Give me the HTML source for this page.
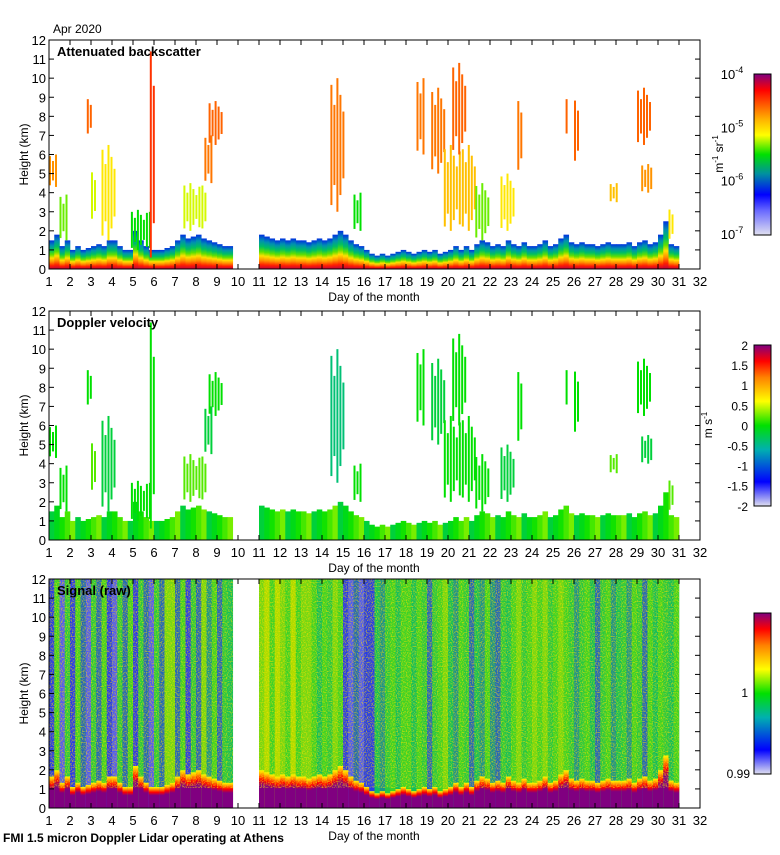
<!DOCTYPE html>
<html><head><meta charset="utf-8"><style>
body{margin:0;background:#fff;font-family:"Liberation Sans",sans-serif}
svg text{font-family:"Liberation Sans",sans-serif}
</style></head><body>
<svg id="s" width="780" height="850" xmlns="http://www.w3.org/2000/svg">
<defs>
<linearGradient id="cmapB" x1="0" y1="1" x2="0" y2="0">
<stop offset="0" stop-color="#e0e0f0"/><stop offset="0.15" stop-color="#6a6aff"/><stop offset="0.25" stop-color="#0000ff"/><stop offset="0.38" stop-color="#0090a0"/><stop offset="0.5" stop-color="#00e000"/><stop offset="0.62" stop-color="#ffff00"/><stop offset="0.72" stop-color="#ffb000"/><stop offset="0.82" stop-color="#ff5000"/><stop offset="0.9" stop-color="#ff0000"/><stop offset="1" stop-color="#800080"/></linearGradient>
<linearGradient id="cmapD" x1="0" y1="1" x2="0" y2="0">
<stop offset="0" stop-color="#e0e0f0"/><stop offset="0.15" stop-color="#0000ff"/><stop offset="0.35" stop-color="#00b0b0"/><stop offset="0.5" stop-color="#00e000"/><stop offset="0.65" stop-color="#ffff00"/><stop offset="0.8" stop-color="#ff8000"/><stop offset="0.9" stop-color="#ff0000"/><stop offset="1" stop-color="#800080"/></linearGradient>
<linearGradient id="blB" x1="0" y1="1" x2="0" y2="0">
<stop offset="0" stop-color="#c00040"/><stop offset="0.12" stop-color="#ff2000"/><stop offset="0.25" stop-color="#ff9000"/><stop offset="0.38" stop-color="#ffe000"/><stop offset="0.5" stop-color="#60e000"/><stop offset="0.65" stop-color="#00c060"/><stop offset="0.82" stop-color="#0090b0"/><stop offset="1" stop-color="#0030e0"/></linearGradient>
<linearGradient id="blS" x1="0" y1="1" x2="0" y2="0">
<stop offset="0" stop-color="#800080"/><stop offset="0.6" stop-color="#800080"/><stop offset="0.75" stop-color="#ff0000"/><stop offset="0.9" stop-color="#ffa000"/><stop offset="1" stop-color="#ffff00"/></linearGradient>
<filter id="noise" x="0" y="0" width="100%" height="100%"><feTurbulence type="fractalNoise" baseFrequency="0.8" numOctaves="1" seed="3"/><feColorMatrix values="0 0 0 0 1  0 0 0 0 0.75  0 0 0 0 0  0 0 0 4 -1.8"/></filter>
</defs>
<g id="plots"></g>
</svg>
<script>
const blHeight=[1.5,1.8,1.2,1.5, 1.0,1.2,1.0,1.1, 1.2,1.3,1.2,1.5, 1.5,1.2,1.0,1.0, 2.0,1.5,1.2,1.0, 1.0,1.0,1.1,1.2, 1.5,1.8,1.6,1.7, 1.8,1.6,1.5,1.4, 1.3,1.2,1.2,null,
null,null,null,null, 1.8,1.7,1.6,1.5, 1.6,1.5,1.6,1.5, 1.5,1.4,1.5,1.6, 1.5,1.6,1.8,2.0, 1.8,1.5,1.3,1.2, 1.0,0.8,0.7,0.8, 0.7,0.8,0.9,1.0, 0.9,0.8,0.9,1.0, 0.9,1.0,0.8,0.9, 1.0,1.2,1.0,1.2, 1.0,1.3,1.5,1.4, 1.2,1.3,1.2,1.5, 1.3,1.2,1.4,1.2, 1.2,1.3,1.5,1.2, 1.3,1.6,1.8,1.4, 1.3,1.4,1.3,1.3, 1.2,1.3,1.4,1.3, 1.3,1.3,1.4,1.2, 1.4,1.5,1.3,1.4, 1.8,2.5,1.3,1.2];
const signalLevel=[0.3,0.55,0.25,0.5, 0.3,0.55,0.35,0.25, 0.5,0.35,0.55,0.3, 0.25,0.5,0.35,0.55, 0.3,0.5,0.35,0.25, 0.5,0.35,0.6,0.6, 0.35,0.55,0.3,0.5, 0.35,0.6,0.4,0.55, 0.35,0.5,0.45,null,
null,null,null,null, 0.6,0.65,0.55,0.65, 0.6,0.55,0.65,0.55, 0.6,0.6,0.55,0.45, 0.55,0.5,0.6,0.55, 0.3,0.25,0.35,0.25, 0.3,0.3,0.45,0.4, 0.5,0.55,0.45,0.55, 0.55,0.45,0.55,0.5, 0.35,0.5,0.55,0.6, 0.45,0.4,0.55,0.5, 0.35,0.45,0.4,0.55, 0.4,0.35,0.5,0.45, 0.55,0.6,0.5,0.55, 0.6,0.55,0.6,0.5, 0.55,0.6,0.55,0.5, 0.4,0.5,0.55,0.45, 0.35,0.5,0.55,0.4, 0.45,0.5,0.4,0.55, 0.5,0.35,0.55,0.45, 0.55,0.5,0.45,0.55];
const cloudStart=[1.0,1.5,2.8,3.0,3.5,4.9,5.8,7.4,8.4,8.6,14.4,15.5,19.2,19.8,20.2,21.3,22.5,23.3,26.0,27.7,29.0,29.2,30.5,18.5,25.6];
const cloudEnd=[1.3,1.9,3.0,3.2,4.2,5.9,5.95,8.5,8.7,9.3,15.1,15.8,19.8,21.3,20.8,22.0,23.2,23.5,26.2,28.1,29.6,29.7,30.7,18.8,25.7];
const cloudBottom=[4.3,1.5,7.0,2.5,1.5,1.0,0,2.0,4.5,6.5,3.0,2.0,5.0,2.0,6.0,1.5,2.0,5.0,5.5,3.5,6.5,4.0,1.5,6.0,7.0];
const cloudTop=[6.0,3.9,9.0,5.2,6.5,3.1,12,4.5,7.0,8.8,10.0,4.0,9.5,6.5,10.8,4.5,5.0,9.0,9.0,4.5,9.5,5.5,3.2,10,9];
const cloudBackscatter=[0.75,0.55,0.8,0.6,0.65,0.5,0.85,0.6,0.78,0.8,0.78,0.5,0.78,0.7,0.8,0.55,0.65,0.78,0.8,0.7,0.8,0.75,0.65,0.78,0.8];
const cloudVelocity=[0.5,0.5,0.5,0.55,0.45,0.5,0.5,0.55,0.45,0.5,0.4,0.5,0.45,0.5,0.5,0.5,0.45,0.5,0.5,0.55,0.5,0.45,0.55,0.5,0.5];
const yTicks=[0,1,2,3,4,5,6,7,8,9,10,11,12];
const xTicks=[1,2,3,4,5,6,7,8,9,10,11,12,13,14,15,16,17,18,19,20,21,22,23,24,25,26,27,28,29,30,31,32];
const cbLabels2=["2","1.5","1","0.5","0","-0.5","-1","-1.5","-2"];

const NS="http://www.w3.org/2000/svg";
const g=document.getElementById('plots');
const X0=49,X1=700,PH=229;
const bases=[269,540,808];
const xs=d=>X0+(d-1)*(X1-X0)/31;
const ys=(b,h)=>b-h*PH/12;
function el(tag,attrs,parent,text){const e=document.createElementNS(NS,tag);for(const k in attrs)e.setAttribute(k,attrs[k]);if(text!==undefined)e.textContent=text;(parent||g).appendChild(e);return e;}
function cm(stops,v){for(let i=1;i<stops.length;i++){if(v<=stops[i][0]){const a=stops[i-1],b=stops[i],t=(v-a[0])/(b[0]-a[0]);return 'rgb('+[0,1,2].map(j=>Math.round(a[1][j]+(b[1][j]-a[1][j])*t)).join(',')+')';}}return 'rgb('+stops[stops.length-1][1].join(',')+')';}
const sB=[[0,[224,224,240]],[0.15,[106,106,255]],[0.25,[0,0,255]],[0.38,[0,144,160]],[0.5,[0,224,0]],[0.62,[255,255,0]],[0.72,[255,176,0]],[0.82,[255,80,0]],[0.9,[255,0,0]],[1,[128,0,128]]];
const sD=[[0,[224,224,240]],[0.15,[0,0,255]],[0.35,[0,176,176]],[0.5,[0,224,0]],[0.65,[255,255,0]],[0.8,[255,128,0]],[0.9,[255,0,0]],[1,[128,0,128]]];
const sS=[[0,[240,240,255]],[0.2,[120,120,255]],[0.3,[40,60,230]],[0.45,[20,190,90]],[0.55,[60,210,40]],[0.65,[170,220,0]],[0.75,[255,200,0]],[1,[255,0,0]]];

for(let p=0;p<3;p++){
  const b=bases[p];
  const pg=el('g',{});
  for(let i=0;i<blHeight.length;i++){
    const d0=1+i*0.25, w=xs(d0+0.25)-xs(d0)+0.3;
    if(p===2){
      const s=signalLevel[i]; if(s===null||s===undefined) continue;
      const c=el('rect',{x:xs(d0),y:ys(b,12),width:w,height:PH,fill:cm(sS,s)},pg);
      
      
      const h=blHeight[i]*1.1;
      const r=el('rect',{x:xs(d0),y:ys(b,h),width:w,height:h*PH/12,fill:'url(#blS)'},pg);
      
      
    } else {
      const h=blHeight[i]; if(h===null) continue;
      const r=el('rect',{x:xs(d0),y:ys(b,h),width:w,height:h*PH/12,fill:p===0?'url(#blB)':cm(sD,0.45+(i%5)*0.03)},pg);
      
      
    }
  }
  if(p===2){
    const n1=el('rect',{x:X0,y:ys(b,12),width:xs(9.75)-X0,height:PH-20,filter:'url(#noise)',opacity:0.6},pg);
    
    
    const n2=el('rect',{x:xs(11),y:ys(b,12),width:xs(31)-xs(11),height:PH-20,filter:'url(#noise)',opacity:0.6},pg);
    
    
  }
  if(p<2){
    for(let i=0;i<cloudStart.length;i++){
      const v=p===0?cloudBackscatter[i]:cloudVelocity[i];
      const x0=xs(cloudStart[i]), x1=Math.max(x0+2,xs(cloudEnd[i]));
      const cg=el('g',{fill:p===0?cm(sB,v):cm(sD,v)},pg);
      
      
      let k=0;
      for(let x=x0;x<x1;x+=3,k++){
        const f=[0.9,0.6,1,0.75,0.5,0.85][k%6];
        const top=cloudTop[i]-(cloudTop[i]-cloudBottom[i])*(1-f)*0.5;
        const bot=cloudBottom[i]+(cloudTop[i]-cloudBottom[i])*(1-f)*0.5;
        el('rect',{x:x,y:ys(b,top),width:2,height:(top-bot)*PH/12},cg);
      }
    }
  }
  el('rect',{x:X0,y:ys(b,12),width:X1-X0,height:PH,fill:'none',stroke:'#000','stroke-width':1},pg);
  yTicks.forEach(t=>{
    const y=ys(b,t);
    el('line',{x1:X0,y1:y,x2:X0+5,y2:y,stroke:'#000'},pg);
    el('line',{x1:X1-5,y1:y,x2:X1,y2:y,stroke:'#000'},pg);
    const tx=el('text',{x:X0-3,y:y+5,'text-anchor':'end','font-size':13},pg,String(t));
    
    
  });
  xTicks.forEach(t=>{
    const x=xs(t);
    el('line',{x1:x,y1:b,x2:x,y2:b-5,stroke:'#000'},pg);
    el('line',{x1:x,y1:ys(b,12),x2:x,y2:ys(b,12)+5,stroke:'#000'},pg);
    const tx=el('text',{x:x,y:b+17,'text-anchor':'middle','font-size':13},pg,String(t));
    
    
  });
  const xt=el('text',{x:374,y:b+32,'text-anchor':'middle','font-size':12},pg,'Day of the month');
  
  
  const yt=el('text',{x:28,y:ys(b,6),'text-anchor':'middle','font-size':12,transform:'rotate(-90 28 '+ys(b,6)+')'},pg,'Height (km)');
  
  
  const pt=el('text',{x:57,y:ys(b,12)+16,'font-size':13,'font-weight':'bold'},pg,['Attenuated backscatter','Doppler velocity','Signal (raw)'][p]);
  
  
  const cy=b-195;
  const cb=el('rect',{x:754,y:cy,width:17,height:161,fill:p===0?'url(#cmapB)':'url(#cmapD)',stroke:'#000'},pg);
  
  
  if(p===0){
    [-4,-5,-6,-7].forEach((e,k)=>{
      const t=el('text',{x:732,y:cy+k*53.3+5,'font-size':13,'text-anchor':'middle'},pg);
      
      
      t.innerHTML='10<tspan dy="-6" font-size="9">'+e+'</tspan>';
    });
    const u=el('text',{x:723,y:cy+80,'font-size':12,'text-anchor':'middle',transform:'rotate(-90 723 '+(cy+80)+')'},pg);
    
    
    u.innerHTML='m<tspan dy="-5" font-size="8">-1</tspan><tspan dy="5"> sr</tspan><tspan dy="-5" font-size="8">-1</tspan>';
  } else if(p===1){
    cbLabels2.forEach((l,k)=>{
      const t=el('text',{x:748,y:cy+k*20.1+5,'font-size':12,'text-anchor':'end'},pg,l);
      
      
    });
    const u=el('text',{x:712,y:cy+80,'font-size':12,'text-anchor':'middle',transform:'rotate(-90 712 '+(cy+80)+')'},pg);
    
    
    u.innerHTML='m s<tspan dy="-5" font-size="8">-1</tspan>';
  } else {
    const t1=el('text',{x:748,y:cy+84,'font-size':12,'text-anchor':'end'},pg,'1');
    
    
    const t2=el('text',{x:750,y:cy+165,'font-size':12,'text-anchor':'end'},pg,'0.99');
    
    
  }
}
const ti=el('text',{x:53,y:33,'font-size':12},g,'Apr 2020');


const ft=el('text',{x:3,y:842,'font-size':12,'font-weight':'bold'},g,'FMI 1.5 micron Doppler Lidar operating at Athens');


</script>
</body></html>
